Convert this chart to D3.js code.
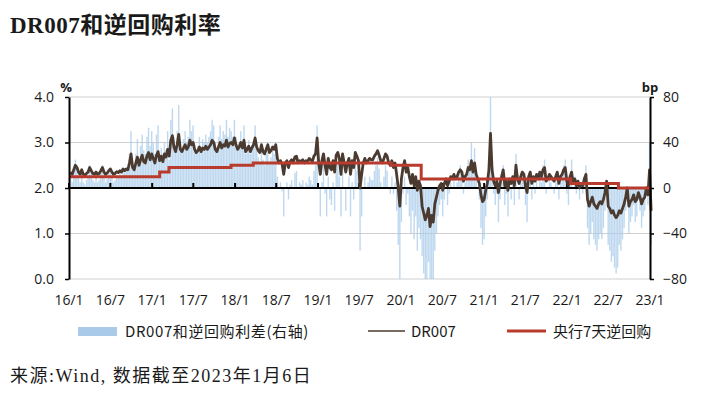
<!DOCTYPE html>
<html>
<head>
<meta charset="utf-8">
<script src="https://cdn.jsdelivr.net/npm/d3@7"></script>
<style>
  body { margin: 0; background: #fff; }
  text { fill: #1a1a1a; }
</style>
</head>
<body>
<svg id="chart" width="711" height="397"></svg>
<script>
// DR007 weekly (%), first point 2016-01-08, one row per year (52 weeks)
const dr2016 = [2.35,2.30,2.40,2.50, 2.45,2.35,2.30,2.40, 2.30,2.28,2.32,2.35,2.45, 2.38,2.32,2.30,2.35,
  2.30,2.32,2.38,2.45, 2.35,2.30,2.33,2.38,2.42, 2.35,2.30,2.32,2.36, 2.34,2.38,2.35,2.42,
  2.38,2.42,2.40,2.55,2.75, 2.45,2.40,2.55,2.68, 2.50,2.62,2.72,2.58, 2.55,2.70,2.78,2.62,2.75];
const dr2017 = [2.65,2.55,2.72,2.80, 2.60,2.70,2.58,2.75, 2.68,2.85,2.70,3.05,3.15, 2.90,2.80,2.95,3.18,
  2.85,2.80,2.88,2.95, 2.85,2.90,3.05,2.95,3.00, 2.85,2.78,2.82,2.90, 2.80,2.88,2.85,2.92,
  2.85,2.90,2.95,3.05,3.00, 2.85,2.80,2.90,3.00, 2.88,2.95,2.92,3.05, 2.90,2.98,3.00,2.95,3.10];
const dr2018 = [2.95,2.85,2.90,3.00, 2.88,3.05,2.80,2.85, 2.92,2.80,2.88,2.95,3.10, 2.90,2.82,2.78,2.95,
  2.80,2.75,2.85,2.95, 2.78,2.82,2.90,2.85,2.95, 2.65,2.55,2.60,2.52, 2.30,2.55,2.60,2.45,
  2.58,2.62,2.55,2.68,2.70, 2.55,2.60,2.58,2.62, 2.55,2.60,2.58,2.65, 2.62,2.58,2.70,2.75,3.10];
const dr2019 = [2.55,2.30,2.60,2.75, 2.50,2.30,2.65,2.45, 2.40,2.60,2.35,2.72,2.78, 2.65,2.30,2.75,2.55,
  2.35,2.55,2.65,2.30, 2.60,2.45,2.78,2.70,2.60, 2.00,2.30,2.55,2.65, 2.55,2.60,2.65,2.62,
  2.62,2.70,2.75,2.82,2.72, 2.60,2.55,2.65,2.75, 2.70,2.55,2.50,2.60, 2.45,2.55,2.30,2.00,1.60];
const dr2020 = [2.20,2.45,2.60,2.35, 2.45,2.25,2.10,2.30, 2.05,2.25,1.95,2.15,2.05, 1.60,1.45,1.30,1.40,
  1.55,1.15,1.40,1.25, 1.65,1.80,1.95,2.05,2.10, 1.95,2.10,2.20,2.05, 2.15,2.25,2.20,2.30,
  2.20,2.25,2.35,2.40,2.35, 2.15,2.25,2.30,2.45, 2.40,2.60,2.35,2.55, 2.30,2.20,2.10,1.85,1.70];
const dr2021 = [1.75,1.95,2.10,2.40, 3.20,2.40,2.15,2.05, 2.15,1.90,2.10,2.25,2.40, 2.05,2.15,1.95,2.20,
  2.10,2.25,2.05,2.50, 2.20,2.10,2.25,2.35,2.30, 2.05,1.90,2.25,2.35, 2.10,2.25,2.15,2.30,
  2.20,2.35,2.25,2.40,2.45, 2.15,2.20,2.30,2.25, 2.20,2.15,2.25,2.35, 2.10,2.25,2.30,2.40,2.45];
const dr2022 = [2.15,2.05,2.25,2.35, 2.10,2.20,2.05,2.15, 2.00,2.10,2.05,2.20,2.30, 1.75,1.60,1.70,1.80,
  1.65,1.60,1.55,1.65, 1.70,1.65,1.75,1.90,2.15, 1.60,1.55,1.45,1.50, 1.40,1.35,1.40,1.50,
  1.45,1.55,1.65,1.80,2.00, 1.60,1.70,1.75,1.85, 1.70,1.75,1.90,1.80, 1.65,1.75,1.80,2.00,1.85];
const dr2023 = [2.40, 1.50];

// 7-day reverse repo rate (%), step changes
const repoDates = ["2016-01-01","2017-02-03","2017-03-16","2017-12-14","2018-03-22",
  "2019-11-18","2020-03-30","2022-01-17","2022-08-15"];
const repoRates = [2.25, 2.35, 2.45, 2.50, 2.55, 2.50, 2.20, 2.10, 2.00];

const xTickLabels = ["16/1","16/7","17/1","17/7","18/1","18/7","19/1","19/7",
  "20/1","20/7","21/1","21/7","22/1","22/7","23/1"];
const leftTicks = [0, 1, 2, 3, 4];
const rightTicks = [-80, -40, 0, 40, 80];

const plotL = 69, plotR = 650, plotT = 97, plotB = 279;
const parse = d3.timeParse("%Y-%m-%d");
const start = new Date(2016, 0, 8);
const endDate = new Date(2023, 0, 6);

const dr007 = [].concat(dr2016, dr2017, dr2018, dr2019, dr2020, dr2021, dr2022, dr2023)
  .map((v, i) => ({ date: d3.timeDay.offset(start, i * 7), value: v }));

const repo = repoDates.map((d, i) => ({ date: parse(d), value: repoRates[i] }));
repo.push({ date: endDate, value: repoRates[repoRates.length - 1] });
const repoTimes = repo.map(r => r.date);
const repoAt = d => repo[Math.max(0, d3.bisectRight(repoTimes, d) - 1)].value;

const x = d3.scaleTime().domain([new Date(2016, 0, 1), new Date(2023, 0, 1)]).range([plotL, plotR]);
const yL = d3.scaleLinear().domain([0, 4]).range([plotB, plotT]);
const yR = d3.scaleLinear().domain([-80, 80]).range([plotB, plotT]);

const svg = d3.select("#chart");
const sans = "'Open Sans', 'Noto Sans', sans-serif";
const cjk = "'Noto Sans CJK SC', 'Noto Sans', sans-serif";

// title
svg.append("text")
  .attr("x", 10).attr("y", 33)
  .style("font-family", "'Liberation Serif', 'Noto Sans CJK SC', serif")
  .style("font-weight", "bold").style("font-size", "23px")
  .style("letter-spacing", "0.5px")
  .text("DR007和逆回购利率");

svg.append("defs").append("clipPath").attr("id", "plot")
  .append("rect").attr("x", plotL).attr("y", plotT).attr("width", plotR - plotL + 3).attr("height", plotB - plotT);

// gridlines
svg.append("g").selectAll("line")
  .data(leftTicks.filter(d => d !== 2))
  .enter().append("line")
  .attr("x1", plotL).attr("x2", plotR)
  .attr("y1", d => yL(d)).attr("y2", d => yL(d))
  .attr("stroke", "#cfcfcf").attr("stroke-width", 1);

// spread bars (right axis, bp)
svg.append("g").attr("clip-path", "url(#plot)")
  .selectAll("rect")
  .data(dr007)
  .enter().append("rect")
  .attr("x", d => x(d.date) - 0.7)
  .attr("width", 1.4)
  .attr("y", d => Math.min(yR(0), yR((d.value - repoAt(d.date)) * 100)))
  .attr("height", d => Math.abs(yR((d.value - repoAt(d.date)) * 100) - yR(0)))
  .attr("fill", "#a8cbea")
  .attr("opacity", 0.75);

// zero line
svg.append("line")
  .attr("x1", plotL).attr("x2", plotR)
  .attr("y1", yL(2)).attr("y2", yL(2))
  .attr("stroke", "#000").attr("stroke-width", 2);

// x ticks on the zero line
const xTickDates = x.ticks(d3.timeMonth.every(6));
svg.append("g").selectAll("line")
  .data(xTickDates)
  .enter().append("line")
  .attr("x1", d => x(d)).attr("x2", d => x(d))
  .attr("y1", yL(2) - 5).attr("y2", yL(2))
  .attr("stroke", "#000").attr("stroke-width", 2);

svg.append("g").selectAll("text")
  .data(xTickDates)
  .enter().append("text")
  .attr("x", d => x(d)).attr("y", 305)
  .attr("text-anchor", "middle")
  .style("font-family", sans).style("font-size", "14px")
  .text((d, i) => xTickLabels[i]);

// DR007 line
svg.append("path")
  .datum(dr007)
  .attr("d", d3.line().x(d => x(d.date)).y(d => yL(d.value)))
  .attr("fill", "none")
  .attr("stroke", "#4b3a2f")
  .attr("stroke-width", 2.8)
  .attr("stroke-linejoin", "round");

// reverse repo line
svg.append("path")
  .datum(repo)
  .attr("d", d3.line().curve(d3.curveStepAfter).x(d => x(d.date)).y(d => yL(d.value)))
  .attr("fill", "none")
  .attr("stroke", "#b83b2d")
  .attr("stroke-width", 3);

// axes
const axL = svg.append("g").attr("transform", `translate(${plotL},0)`)
  .call(d3.axisLeft(yL).tickValues(leftTicks).tickFormat(d3.format(".1f")).tickSize(4).tickSizeOuter(0).tickPadding(11));
const axR = svg.append("g").attr("transform", `translate(${plotR},0)`)
  .call(d3.axisRight(yR).tickValues(rightTicks).tickSize(4).tickSizeOuter(0).tickPadding(9));
[axL, axR].forEach(ax => {
  ax.select(".domain").attr("stroke", "#000").attr("stroke-width", 2);
  ax.selectAll(".tick line").attr("stroke", "#000").attr("stroke-width", 1.5);
  ax.selectAll("text").style("font-family", sans).style("font-size", "14px").attr("fill", "#1a1a1a");
});

svg.append("text").attr("x", 66).attr("y", 92).attr("text-anchor", "middle")
  .style("font-family", sans).style("font-weight", "bold").style("font-size", "13px").text("%");
svg.append("text").attr("x", 650).attr("y", 92).attr("text-anchor", "middle")
  .style("font-family", sans).style("font-weight", "bold").style("font-size", "13px").text("bp");

// legend
const lg = svg.append("g").style("font-family", cjk).style("font-size", "15px");
lg.append("rect").attr("x", 78).attr("y", 327).attr("width", 39).attr("height", 9).attr("fill", "#a9cbe9");
lg.append("text").attr("x", 125).attr("y", 337).style("letter-spacing", "0.6px").text("DR007和逆回购利差(右轴)");
lg.append("line").attr("x1", 368).attr("x2", 405).attr("y1", 331).attr("y2", 331)
  .attr("stroke", "#4b3a2f").attr("stroke-width", 1.5);
lg.append("text").attr("x", 411).attr("y", 337).text("DR007");
lg.append("line").attr("x1", 507).attr("x2", 546).attr("y1", 331).attr("y2", 331)
  .attr("stroke", "#b83b2d").attr("stroke-width", 3);
lg.append("text").attr("x", 553).attr("y", 337).text("央行7天逆回购");

// source
svg.append("text")
  .attr("x", 10).attr("y", 382)
  .style("font-family", "'Liberation Serif', 'Noto Sans CJK SC', serif")
  .style("font-size", "18px").style("letter-spacing", "1.5px").attr("fill", "#333")
  .text("来源:Wind, 数据截至2023年1月6日");
</script>
</body>
</html>
